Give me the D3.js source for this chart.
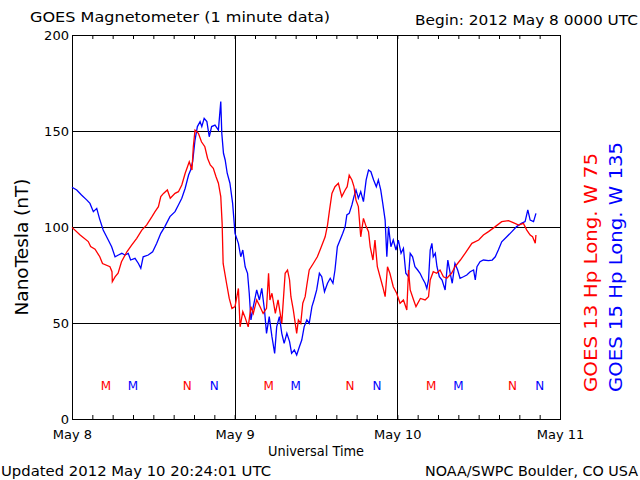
<!DOCTYPE html>
<html><head><meta charset="utf-8">
<script src="https://cdn.jsdelivr.net/npm/d3@7/dist/d3.min.js"></script>
<style>body{margin:0;background:#fff}svg{display:block}text{font-family:"DejaVu Sans",sans-serif}</style>
</head><body><svg id="c" width="640" height="480"></svg>
<script>
// Hours since 2012 May 8 00:00 UTC, and Hp in nT
const goes13Hours = [0,1.2,2.4,2.75,3.4,4.1,4.5,5.6,5.9,5.95,6.35,6.8,7.3,8.1,8.8,9.55,10.3,11,11.8,12.25,12.75,13.1,13.5,14.07,14.5,15.2,15.7,16.2,16.7,17.3,17.7,17.9,18.15,18.65,19.1,19.6,20,20.4,20.85,21.25,21.6,21.95,22.15,22.3,22.8,23.2,23.6,24.05,24.55,24.8,25.2,25.5,26,26.4,26.75,27.25,27.75,28.2,28.7,29,29.2,29.5,30,30.4,30.95,31.45,31.8,32.1,32.3,32.65,33.15,33.4,33.75,34.05,34.4,34.65,35,35.6,36.2,36.7,37.35,37.7,38,38.35,38.8,39.3,39.8,40.3,40.6,40.9,41.3,41.6,41.9,42.25,42.6,43,43.4,43.75,44,44.4,44.7,45.05,45.45,45.85,46.2,46.55,46.9,47.4,47.9,48.4,48.9,49.4,49.65,49.9,50.4,50.75,51.4,52.1,52.6,52.85,53.3,53.8,54.3,54.8,55.3,56,56.5,57.3,58,59,60,60.7,61.45,62.45,63.4,64.4,65.1,65.9,66.6,67.1,67.6,67.95,68.35,68.45];
const goes13Values = [99.8,95.8,92.4,89.8,88.4,84.5,81,79.3,76.7,71.5,74,75.9,81.9,87.1,90.6,94.1,98.4,101,105.4,108,110.6,115.8,117.5,119.3,115,117.5,118.4,121.9,128,134,129.7,141.8,150.5,148.8,144.4,141.8,135.8,132.3,130.6,126.2,122.8,115.8,101.9,81,70.7,62.8,57.6,58.5,68,48,55.9,53.3,48,58.5,55,62,58.5,55,57.6,75.9,62,65.5,55,62,49.8,75.9,77.6,72.4,63.7,56.8,44.6,51.6,49.8,60.3,63.7,69.8,77.6,81,84.5,88.9,94.9,101,108.9,117.5,121,122.8,115.8,119.3,121,127,124.5,121,114,110.6,94.9,104.5,100.2,97.6,89.7,82.8,93.2,79.3,74.1,68.9,63.7,79.3,75.9,68.9,65.5,60.3,62,56.8,77.6,67.2,62,58.5,62.8,62,63.7,72.4,76.7,75.9,77.6,74.1,73.3,75.9,79.3,82.8,86.3,91.5,93.2,95.8,97.6,100.2,102.8,103.3,102.3,101,101.9,98.4,95.8,94.9,91.5,95.8];
const goes15Hours = [0,0.7,1.4,2.2,2.65,3.15,3.65,4.05,4.6,5.35,5.85,6.35,6.85,7.35,7.8,8.3,8.65,9.3,9.8,10.15,10.5,11.25,11.9,12.5,13.1,13.7,14.45,15.2,15.7,16.2,16.7,17.2,17.5,17.8,18.15,18.5,18.9,19.15,19.5,19.9,20.25,20.6,21.1,21.6,21.95,22.1,22.35,22.6,22.9,23.3,23.7,24.05,24.55,24.9,25.2,25.55,25.9,26.15,26.4,26.75,27.25,27.65,28,28.4,28.7,29.1,29.5,29.9,30.2,30.6,30.95,31.3,31.7,32.1,32.4,32.8,33.15,33.55,33.9,34.25,34.65,35,35.4,35.7,36.1,36.5,36.85,37.25,37.7,38.1,38.5,38.8,39.15,39.55,39.95,40.3,40.55,40.9,41.3,41.6,41.9,42.25,42.6,43,43.4,43.75,44.1,44.5,44.9,45.2,45.55,45.85,46.2,46.45,46.7,47.05,47.4,47.8,48.15,48.55,48.9,49.25,49.65,49.9,50.25,50.6,51,51.35,51.7,52.1,52.35,52.6,52.85,53.1,53.3,53.6,53.85,54.2,54.6,55.05,55.45,55.8,56.1,56.5,56.9,57.25,57.75,58.25,58.75,59.25,59.5,59.75,60.2,60.7,61.45,62,62.45,62.9,63.4,64.15,64.9,65.6,66.3,66.85,67.25,67.6,68.1,68.45];
const goes15Values = [120.7,119.3,116.7,114,112.3,108,109.7,104.5,98.4,93.2,89.7,84.5,85.4,86.3,85.4,86.3,82.8,83.7,81,78.5,84.5,85.4,87.1,91.5,96.7,100.2,105.4,108,111.5,115,120.2,127.1,129.7,134,145.3,152.3,154.9,152.3,156.6,154.9,147,152.3,153.1,150.5,165.3,148.8,138.4,134.9,128,122.8,112.3,96.7,91.5,84.5,88,79.3,75.9,65.5,51.6,58.5,67.2,62,68,56.8,44.6,53.3,42.9,34.2,48,53.3,44.6,39.4,44.6,40.3,34.2,35.9,33.3,37.6,41.1,48,51.6,49.8,58.5,62,67.2,75.9,74.1,66.3,70.7,73.3,70.7,77.6,89.7,93.2,96.7,100.2,106.3,107.1,111.5,115.8,119.3,115,118.4,113.2,124.5,129.7,128.8,124.5,121,124.5,119.3,112.3,103.6,84.5,100.2,89.7,93.2,88,93.2,86.3,88.9,75.9,74.1,86.3,84.5,79.3,77.6,75.9,73.3,70.7,68,72.4,88,91.5,84.5,86.3,79.3,74.1,72.4,67.2,82.8,75.9,70.7,81,77.6,73.3,74.1,75,76.7,77.6,72.4,79.3,81.9,82.8,82.5,82.8,84.5,88,92.3,94.9,97.6,100.2,101.9,102.8,108.9,103.6,102.8,107.1];
const goes13MarkerHours = [5,17,29,41,53,65];
const goes15MarkerHours = [9,21,33,45,57,69];
const markerLabels = ["M","N","M","N","M","N"];
const yTicks = [0,50,100,150,200];
const xTickHours = d3.range(0,73,3);
const dayLabels = ["May 8","May 9","May 10","May 11"];

const svg = d3.select("#c");
const L=72,R=560,T=35,B=419;
const x = d3.scaleLinear().domain([0,72]).range([L,R]);
const y = d3.scaleLinear().domain([0,200]).range([B,T]);
const RED="#ff0000", BLUE="#0000ff";

svg.append("rect").attr("width",640).attr("height",480).attr("fill","#fff");

// grid
svg.append("g").selectAll("line").data([50,100,150]).join("line")
  .attr("x1",L).attr("x2",R).attr("y1",d=>Math.round(y(d))+0.5).attr("y2",d=>Math.round(y(d))+0.5)
  .attr("stroke","#000").attr("stroke-width",1);
svg.append("g").selectAll("line").data([24,48]).join("line")
  .attr("y1",T).attr("y2",B).attr("x1",d=>Math.round(x(d))+0.5).attr("x2",d=>Math.round(x(d))+0.5)
  .attr("stroke","#000").attr("stroke-width",1);

// x axes (ticks inward)
const fmt = h => h%24===0 ? dayLabels[h/24] : "";
const xb = svg.append("g").attr("transform",`translate(0,${B})`)
  .call(d3.axisBottom(x).tickValues(xTickHours).tickSize(-4).tickPadding(0).tickFormat(fmt));
const xt = svg.append("g").attr("transform",`translate(0,${T})`)
  .call(d3.axisTop(x).tickValues(xTickHours).tickSize(-4).tickFormat(""));
const ya = svg.append("g").attr("transform",`translate(${L},0)`)
  .call(d3.axisLeft(y).tickValues(yTicks).tickSize(0).tickPadding(3));
[xb,xt,ya].forEach(g=>{g.select(".domain").remove(); g.selectAll("line").attr("stroke","#000");
  g.selectAll("text").attr("font-size",13).attr("font-family","DejaVu Sans").attr("fill","#000");});
ya.selectAll("text").attr("textLength",d=>String(d).length*8.3).attr("lengthAdjust","spacingAndGlyphs");
xb.selectAll("text").attr("dy",null).attr("y",20);

// frame
svg.append("rect").attr("x",L+0.5).attr("y",T+0.5).attr("width",R-L).attr("height",B-T)
  .attr("fill","none").attr("stroke","#000").attr("stroke-width",1);

// data lines
const line = d3.line().x(d=>x(d[0])).y(d=>y(d[1]));
svg.append("path").datum(d3.zip(goes15Hours,goes15Values)).attr("d",line)
  .attr("fill","none").attr("stroke",BLUE).attr("stroke-width",1.3);
svg.append("path").datum(d3.zip(goes13Hours,goes13Values)).attr("d",line)
  .attr("fill","none").attr("stroke",RED).attr("stroke-width",1.3);

// markers
const mk = (hours,color)=>svg.append("g").selectAll("text").data(hours).join("text")
  .attr("x",d=>x(d)).attr("y",390).attr("text-anchor","middle").attr("font-size",12)
  .attr("fill",color).text((d,i)=>markerLabels[i]);
mk(goes13MarkerHours,RED); mk(goes15MarkerHours,BLUE);

// texts
const txt=(s,xx,yy,opts={})=>{const t=svg.append("text").attr("x",xx).attr("y",yy).attr("font-size",opts.size||14)
  .attr("fill",opts.color||"#000").text(s);
  if(opts.anchor) t.attr("text-anchor",opts.anchor);
  if(opts.len) t.attr("textLength",opts.len).attr("lengthAdjust","spacingAndGlyphs");
  if(opts.rot) t.attr("transform",`rotate(-90,${xx},${yy})`);
  return t;};
txt("GOES Magnetometer (1 minute data)",30,22,{len:300});
txt("Begin:  2012 May 8 0000 UTC",415,25,{len:223});
txt("Universal Time",316,456,{anchor:"middle",len:96});
txt("Updated 2012 May 10 20:24:01 UTC",1,476,{len:270});
txt("NOAA/SWPC Boulder, CO USA",425,476,{len:213});
txt("NanoTesla (nT)",28,247,{anchor:"middle",rot:true,size:17,len:137});
txt("GOES 13 Hp  Long. W 75",597,392,{rot:true,size:17,color:RED,len:239});
txt("GOES 15 Hp  Long. W 135",622,392,{rot:true,size:17,color:BLUE,len:250});
</script></body></html>
